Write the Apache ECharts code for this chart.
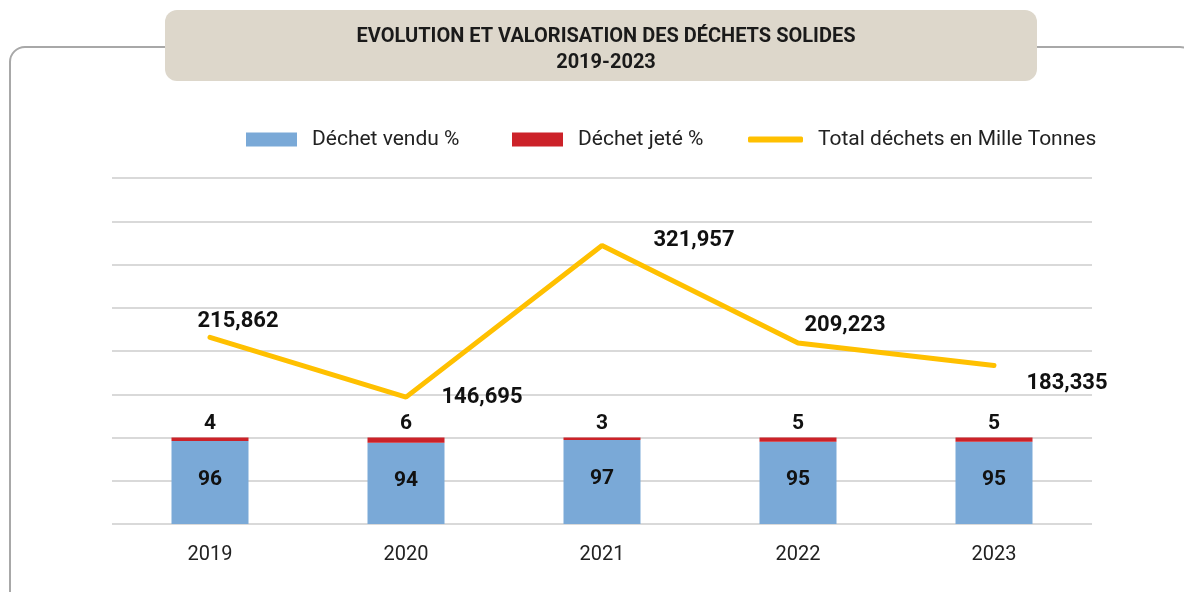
<!DOCTYPE html>
<html>
<head>
<meta charset="utf-8">
<script src="https://cdn.jsdelivr.net/npm/echarts@6/dist/echarts.min.js"></script>
<style>
  html, body { margin: 0; padding: 0; background: #fff; }
  #chart { width: 1184px; height: 592px; }
</style>
</head>
<body>
<div id="chart"></div>
<script>
// data
var years = ['2019', '2020', '2021', '2022', '2023']
var soldPct = [96, 94, 97, 95, 95]
var thrownPct = [4, 6, 3, 5, 5]
// total waste, thousand tonnes
var totalWaste = [215.862, 146.695, 321.957, 209.223, 183.335]
// where each total label sits relative to its point (px)
var totalLabelOffset = [[28, -16], [76, 0], [92, -5], [47, -18], [73, 18]]

var font = 'Roboto'
var chart = echarts.init(document.getElementById('chart'))

chart.setOption({
  animation: false,
  textStyle: { fontFamily: font },
  graphic: [
    {
      // outer frame
      type: 'rect',
      z: -10,
      shape: { x: 10, y: 47, width: 1185, height: 600, r: 15 },
      style: { fill: 'none', stroke: '#a8a8a8', lineWidth: 2 }
    },
    {
      // title box
      type: 'rect',
      z: -5,
      shape: { x: 165, y: 10, width: 872, height: 71, r: 12 },
      style: { fill: '#ddd7cb' }
    }
  ],
  title: {
    text: 'EVOLUTION ET VALORISATION DES DÉCHETS SOLIDES\n2019-2023',
    left: 601,
    top: 19,
    textAlign: 'center',
    textStyle: {
      fontFamily: font,
      fontSize: 20,
      fontWeight: 'bold',
      color: '#1a1a1a',
      lineHeight: 26
    }
  },
  legend: [
    {
      data: ['Déchet vendu %'],
      left: 241,
      top: 124,
      itemWidth: 51,
      itemHeight: 14,
      icon: 'rect',
      textStyle: { fontSize: 21, color: '#222', padding: [0, 0, 0, 10] }
    },
    {
      data: ['Déchet jeté %'],
      left: 507,
      top: 124,
      itemWidth: 51,
      itemHeight: 14,
      icon: 'rect',
      textStyle: { fontSize: 21, color: '#222', padding: [0, 0, 0, 10] }
    },
    {
      data: [{ name: 'Total déchets en Mille Tonnes', icon: 'roundRect' }],
      left: 743,
      top: 124,
      itemWidth: 55,
      itemHeight: 6,
      textStyle: { fontSize: 21, color: '#222', padding: [0, 0, 0, 10] }
    }
  ],
  grid: {
    left: 112,
    right: 92,
    top: 178,
    bottom: 68
  },
  xAxis: {
    type: 'category',
    data: years,
    axisLine: { show: false },
    axisTick: { show: false },
    axisLabel: { fontSize: 20, color: '#222', margin: 21 }
  },
  yAxis: {
    type: 'value',
    min: 0,
    max: 400,
    interval: 50,
    axisLabel: { show: false },
    axisLine: { show: false },
    axisTick: { show: false },
    splitLine: { lineStyle: { color: '#d9d9d9', width: 2 } }
  },
  series: [
    {
      name: 'Déchet vendu %',
      type: 'bar',
      stack: 'pct',
      barWidth: 77,
      data: soldPct,
      itemStyle: { color: '#7aa9d7' },
      label: {
        show: true,
        position: 'inside',
        offset: [0, -3],
        fontSize: 21,
        fontWeight: 'bold',
        color: '#111'
      }
    },
    {
      name: 'Déchet jeté %',
      type: 'bar',
      stack: 'pct',
      barWidth: 77,
      data: thrownPct,
      itemStyle: { color: '#cc2229' },
      label: {
        show: true,
        position: 'top',
        distance: 3,
        fontSize: 21,
        fontWeight: 'bold',
        color: '#111'
      }
    },
    {
      name: 'Total déchets en Mille Tonnes',
      type: 'line',
      data: totalWaste.map(function (v, i) {
        return {
          value: v,
          label: { offset: totalLabelOffset[i] }
        }
      }),
      symbol: 'circle',
      symbolSize: 1,
      showSymbol: true,
      z: 5,
      itemStyle: { color: '#ffc000' },
      lineStyle: { color: '#ffc000', width: 5, cap: 'round' },
      label: {
        show: true,
        position: 'inside',
        fontSize: 22,
        fontWeight: 'bold',
        color: '#111',
        formatter: function (p) {
          return p.value.toFixed(3).replace('.', ',')
        }
      }
    }
  ]
})
</script>
</body>
</html>
